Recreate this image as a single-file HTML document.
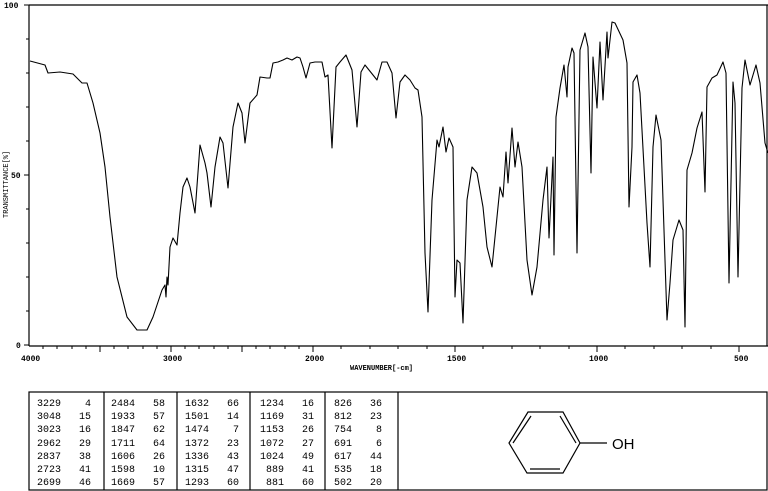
<!DOCTYPE html>
<html><head><meta charset="utf-8"><style>
body{margin:0;background:#fff;width:768px;height:491px;overflow:hidden}
svg{display:block}
text{font-family:"Liberation Mono",monospace;fill:#000}
</style></head><body>
<svg width="768" height="491" viewBox="0 0 768 491" xmlns="http://www.w3.org/2000/svg">
<g stroke="#000" fill="none" stroke-width="1.2">
<line x1="29" y1="5" x2="768" y2="5"/>
<line x1="29" y1="5" x2="29" y2="346"/>
<line x1="29" y1="346" x2="768" y2="346"/>
<line x1="767" y1="5" x2="767" y2="346"/>
</g>
<g stroke="#000" stroke-width="1">
<line x1="24" y1="5" x2="29" y2="5"/><line x1="26" y1="39" x2="29" y2="39"/><line x1="26" y1="73" x2="29" y2="73"/><line x1="26" y1="107" x2="29" y2="107"/><line x1="26" y1="141" x2="29" y2="141"/><line x1="24" y1="175" x2="29" y2="175"/><line x1="26" y1="209" x2="29" y2="209"/><line x1="26" y1="243" x2="29" y2="243"/><line x1="26" y1="277" x2="29" y2="277"/><line x1="26" y1="311" x2="29" y2="311"/><line x1="24" y1="345" x2="29" y2="345"/>
</g>
<text x="4" y="8" font-size="8" font-weight="bold">100</text>
<text x="11" y="178" font-size="8" font-weight="bold">50</text>
<text x="16" y="348" font-size="8" font-weight="bold">0</text>
<text transform="translate(8,218) rotate(-90)" font-size="7">TRANSMITTANCE[%]</text>
<text x="21" y="361" font-size="8" font-weight="bold">4000</text>
<text x="163" y="361" font-size="8" font-weight="bold">3000</text>
<text x="305" y="361" font-size="8" font-weight="bold">2000</text>
<text x="447" y="361" font-size="8" font-weight="bold">1500</text>
<text x="589" y="361" font-size="8" font-weight="bold">1000</text>
<text x="734" y="361" font-size="8" font-weight="bold">500</text>
<text x="350" y="370" font-size="7" font-weight="bold">WAVENUMBER[-cm]</text>
<path fill="none" stroke="#000" stroke-width="1.1" stroke-linejoin="round" d="M30,61 L45,65 L48,73 L60,72 L73,74 L82,83 L87,83 L93,103 L100,133 L105,167 L110,217 L117,277 L127,317 L137,330 L147,330 L153,317 L157,305 L162,290 L165,285 L166,297 L167,277 L168,285 L170,247 L173,238 L177,245 L180,213 L183,187 L187,178 L190,187 L195,213 L200,145 L205,163 L207,173 L211,207 L215,167 L220,137 L223,143 L228,188 L233,127 L238,103 L242,113 L245,143 L250,103 L257,95 L260,77 L267,78 L270,78 L273,63 L278,62 L283,60 L287,58 L292,60 L297,57 L300,58 L303,67 L306,78 L310,63 L315,62 L322,62 L325,77 L328,75 L332,148 L336,67 L340,62 L346,55 L352,70 L357,127 L361,72 L365,65 L377,80 L382,62 L387,62 L392,73 L396,118 L400,82 L405,75 L410,80 L415,88 L418,90 L422,117 L425,253 L428,312 L432,200 L437,140 L439,147 L443,127 L446,152 L449,138 L453,147 L455,297 L457,260 L460,263 L463,323 L467,200 L472,167 L477,173 L483,207 L487,247 L492,267 L497,217 L500,187 L503,197 L506,152 L508,183 L512,128 L515,167 L518,142 L522,167 L527,260 L532,295 L537,267 L543,200 L547,167 L549,238 L553,157 L554,255 L556,117 L560,88 L564,65 L567,97 L568,67 L572,48 L574,53 L577,253 L580,50 L585,33 L588,47 L591,173 L593,57 L597,108 L600,42 L603,100 L607,32 L608,58 L612,22 L615,23 L623,40 L627,63 L629,207 L632,147 L633,82 L637,75 L640,93 L647,223 L650,267 L653,147 L656,115 L661,140 L667,320 L670,283 L673,240 L679,220 L683,230 L685,327 L687,170 L692,153 L697,128 L702,112 L705,192 L707,87 L712,78 L717,75 L723,62 L726,73 L729,283 L733,82 L735,103 L738,277 L742,88 L745,60 L750,85 L756,65 L760,83 L765,143 L768,153"/>
<g fill="none" stroke="#000" stroke-width="1.2">
<rect x="29" y="392" width="738" height="98"/>
<line x1="104" y1="392" x2="104" y2="490"/>
<line x1="177" y1="392" x2="177" y2="490"/>
<line x1="250" y1="392" x2="250" y2="490"/>
<line x1="325" y1="392" x2="325" y2="490"/>
<line x1="398" y1="392" x2="398" y2="490"/>
<path d="M528,412 L563,412 L580,443 L563,473 L527,473 L509,443 Z"/>
<line x1="531" y1="416" x2="513" y2="443"/>
<line x1="560" y1="416" x2="576" y2="443"/>
<line x1="530" y1="469" x2="560" y2="469"/>
<line x1="580" y1="443" x2="607" y2="443"/>
</g>
<text x="612" y="449" font-size="15" style="font-family:'Liberation Sans',sans-serif">OH</text>
<g font-size="10">
<text x="37" y="406" xml:space="preserve">3229    4</text>
<text x="37" y="419" xml:space="preserve">3048   15</text>
<text x="37" y="432" xml:space="preserve">3023   16</text>
<text x="37" y="446" xml:space="preserve">2962   29</text>
<text x="37" y="459" xml:space="preserve">2837   38</text>
<text x="37" y="472" xml:space="preserve">2723   41</text>
<text x="37" y="485" xml:space="preserve">2699   46</text>
<text x="111" y="406" xml:space="preserve">2484   58</text>
<text x="111" y="419" xml:space="preserve">1933   57</text>
<text x="111" y="432" xml:space="preserve">1847   62</text>
<text x="111" y="446" xml:space="preserve">1711   64</text>
<text x="111" y="459" xml:space="preserve">1606   26</text>
<text x="111" y="472" xml:space="preserve">1598   10</text>
<text x="111" y="485" xml:space="preserve">1669   57</text>
<text x="185" y="406" xml:space="preserve">1632   66</text>
<text x="185" y="419" xml:space="preserve">1501   14</text>
<text x="185" y="432" xml:space="preserve">1474    7</text>
<text x="185" y="446" xml:space="preserve">1372   23</text>
<text x="185" y="459" xml:space="preserve">1336   43</text>
<text x="185" y="472" xml:space="preserve">1315   47</text>
<text x="185" y="485" xml:space="preserve">1293   60</text>
<text x="260" y="406" xml:space="preserve">1234   16</text>
<text x="260" y="419" xml:space="preserve">1169   31</text>
<text x="260" y="432" xml:space="preserve">1153   26</text>
<text x="260" y="446" xml:space="preserve">1072   27</text>
<text x="260" y="459" xml:space="preserve">1024   49</text>
<text x="260" y="472" xml:space="preserve"> 889   41</text>
<text x="260" y="485" xml:space="preserve"> 881   60</text>
<text x="334" y="406" xml:space="preserve">826   36</text>
<text x="334" y="419" xml:space="preserve">812   23</text>
<text x="334" y="432" xml:space="preserve">754    8</text>
<text x="334" y="446" xml:space="preserve">691    6</text>
<text x="334" y="459" xml:space="preserve">617   44</text>
<text x="334" y="472" xml:space="preserve">535   18</text>
<text x="334" y="485" xml:space="preserve">502   20</text>
</g>
<g stroke="#000" stroke-width="1">
<line x1="43" y1="346" x2="43" y2="349"/><line x1="57" y1="346" x2="57" y2="349"/><line x1="72" y1="346" x2="72" y2="349"/><line x1="86" y1="346" x2="86" y2="349"/><line x1="100" y1="346" x2="100" y2="352"/><line x1="114" y1="346" x2="114" y2="349"/><line x1="128" y1="346" x2="128" y2="349"/><line x1="143" y1="346" x2="143" y2="349"/><line x1="157" y1="346" x2="157" y2="349"/><line x1="171" y1="346" x2="171" y2="352"/><line x1="185" y1="346" x2="185" y2="349"/><line x1="199" y1="346" x2="199" y2="349"/><line x1="214" y1="346" x2="214" y2="349"/><line x1="228" y1="346" x2="228" y2="349"/><line x1="242" y1="346" x2="242" y2="352"/><line x1="256" y1="346" x2="256" y2="349"/><line x1="270" y1="346" x2="270" y2="349"/><line x1="285" y1="346" x2="285" y2="349"/><line x1="299" y1="346" x2="299" y2="349"/><line x1="313" y1="346" x2="313" y2="352"/><line x1="341" y1="346" x2="341" y2="349"/><line x1="370" y1="346" x2="370" y2="349"/><line x1="398" y1="346" x2="398" y2="349"/><line x1="427" y1="346" x2="427" y2="349"/><line x1="455" y1="346" x2="455" y2="352"/><line x1="483" y1="346" x2="483" y2="349"/><line x1="512" y1="346" x2="512" y2="349"/><line x1="540" y1="346" x2="540" y2="349"/><line x1="569" y1="346" x2="569" y2="349"/><line x1="597" y1="346" x2="597" y2="352"/><line x1="625" y1="346" x2="625" y2="349"/><line x1="654" y1="346" x2="654" y2="349"/><line x1="682" y1="346" x2="682" y2="349"/><line x1="711" y1="346" x2="711" y2="349"/><line x1="739" y1="346" x2="739" y2="352"/>
</g>
</svg>
</body></html>
